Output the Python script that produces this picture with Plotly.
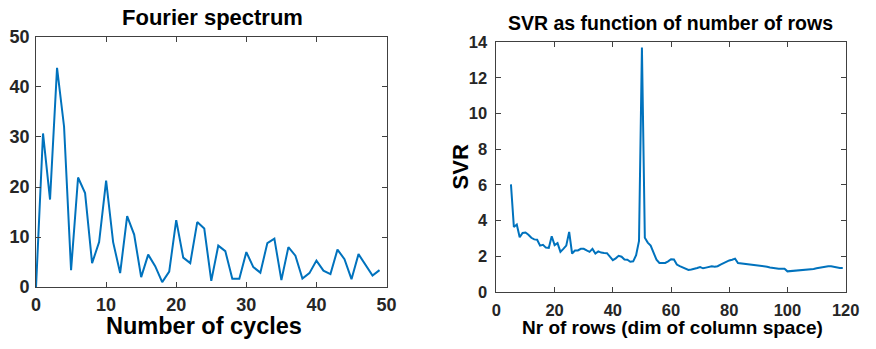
import plotly.graph_objects as go

# Fourier spectrum magnitudes, one per cycle count 0..49
cycles = list(range(50))
spectrum = [0.0, 30.7, 17.5, 43.8, 32.1, 3.4, 21.9, 18.8, 4.8, 9.0,
            21.3, 9.0, 2.8, 14.2, 10.5, 2.0, 6.5, 4.2, 1.0, 3.1,
            13.4, 5.9, 4.8, 13.0, 11.7, 1.25, 8.3, 7.2, 1.7, 1.7,
            7.0, 4.0, 2.9, 8.8, 9.7, 1.4, 8.0, 6.3, 1.7, 2.8,
            5.3, 3.3, 2.6, 7.5, 5.6, 1.6, 6.6, 4.5, 2.3, 3.4]

# SVR against the number of rows, 5..120
rows = list(range(5, 121))
svr = [6.02, 3.64, 3.77, 3.06, 3.30, 3.33, 3.20, 3.03, 2.94, 2.92,
       2.59, 2.64, 2.48, 2.46, 3.12, 2.62, 2.73, 2.24, 2.41, 2.59,
       3.36, 2.15, 2.32, 2.32, 2.41, 2.41, 2.32, 2.24, 2.41, 2.15,
       2.27, 2.20, 2.18, 2.17, 1.97, 1.78, 1.88, 2.02, 1.97, 1.81,
       1.80, 1.69, 1.71, 2.06, 2.85, 13.7, 3.03, 2.76, 2.59, 2.15,
       1.80, 1.62, 1.62, 1.62, 1.71, 1.83, 1.82, 1.53, 1.44, 1.36,
       1.27, 1.23, 1.25, 1.28, 1.34, 1.39, 1.32, 1.36, 1.39, 1.43,
       1.41, 1.44, 1.53, 1.62, 1.71, 1.76, 1.80, 1.86, 1.62, 1.60,
       1.58, 1.57, 1.53, 1.50, 1.50, 1.48, 1.46, 1.44, 1.41, 1.37,
       1.34, 1.32, 1.30, 1.30, 1.30, 1.15, 1.16, 1.18, 1.18, 1.20,
       1.20, 1.21, 1.23, 1.25, 1.28, 1.32, 1.36, 1.39, 1.43, 1.44,
       1.43, 1.39, 1.36, 1.34, 1.34]

W, H = 876, 349
LINE = "#0072BD"
AX = "#404040"
TXT = "#262626"
FONT = "Liberation Sans"


def px(x):
    return x / W


def py(y):
    return 1 - y / H


fig = go.Figure()
fig.add_trace(go.Scatter(x=cycles, y=spectrum, mode="lines",
                         line=dict(color=LINE, width=2),
                         xaxis="x", yaxis="y", showlegend=False))
fig.add_trace(go.Scatter(x=rows, y=svr, mode="lines",
                         line=dict(color=LINE, width=2),
                         xaxis="x2", yaxis="y2", showlegend=False))


def axis_style(size):
    return dict(showline=True, linecolor=AX, linewidth=1, mirror="ticks",
                ticks="inside", ticklen=5, tickcolor=AX, tickwidth=1,
                showgrid=False, zeroline=False,
                tickfont=dict(family=FONT, size=size, color=TXT,
                              weight="bold"))


fig.update_layout(
    width=W, height=H,
    margin=dict(l=0, r=0, t=0, b=0),
    paper_bgcolor="white", plot_bgcolor="white",
    xaxis=dict(domain=[px(31.7), px(390)], range=[0, 50], dtick=10,
               anchor="y", ticklabelstandoff=1, **axis_style(18)),
    yaxis=dict(domain=[py(294), py(28.5)], range=[0, 50], dtick=10,
               anchor="x", ticklabelstandoff=2, **axis_style(18)),
    xaxis2=dict(domain=[px(502.3), px(859.3)], range=[0, 120], dtick=20,
                anchor="y2", ticklabelstandoff=3, **axis_style(16.5)),
    yaxis2=dict(domain=[py(299), py(34)], range=[0, 14], dtick=2,
                anchor="x2", ticklabelstandoff=5, **axis_style(16.5)),
)


def bold(size):
    return dict(family=FONT, size=size, color="black", weight="bold")


annotations = [
    dict(text="Fourier spectrum", x=px(212), y=py(8), font=bold(22)),
    dict(text="Number of cycles", x=px(203), y=py(335), font=bold(23.5)),
    dict(text="SVR as function of number of rows", x=px(680), y=py(14),
         font=bold(19.5)),
    dict(text="Nr of rows (dim of column space)", x=px(682), y=py(337),
         font=bold(19)),
    dict(text="SVR", x=px(466), y=py(166), font=bold(22), textangle=-90),
]
for a in annotations:
    fig.add_annotation(xref="paper", yref="paper", showarrow=False,
                       xanchor="center", yanchor="middle", **a)

fig.write_html("out.html")
